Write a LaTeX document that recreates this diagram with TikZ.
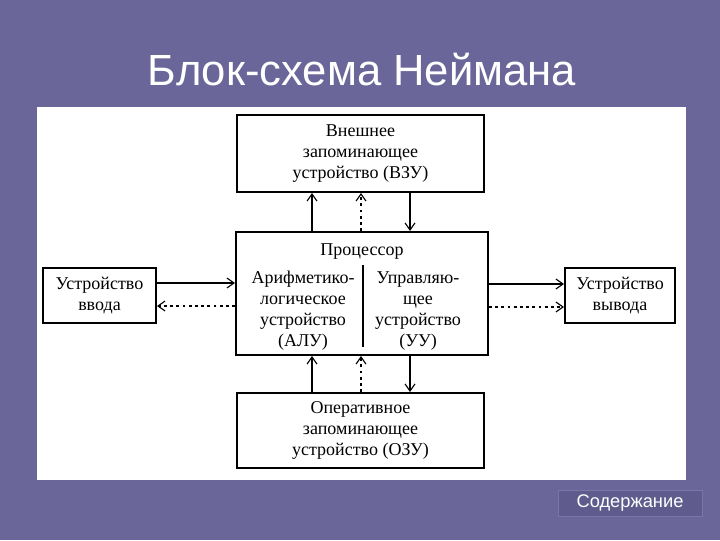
\documentclass[tikz,border=0pt]{standalone}
\usepackage{fontspec}
\setmainfont{Liberation Serif}
\newfontfamily\headfont{Liberation Sans}
\newfontfamily\btnfont{Liberation Sans}
\usetikzlibrary{arrows.meta, positioning, calc}
\definecolor{slidebg}{HTML}{6B6699}
\definecolor{btnfill}{HTML}{5F5B8D}
\definecolor{btnline}{HTML}{7A76A6}

\begin{document}
\begin{tikzpicture}[x=0.025cm, y=-0.025cm,
    block/.style={draw, line width=1.4pt, align=center, inner sep=0pt,
        font=\fontsize{12.8}{15}\selectfont},
    label/.style={align=center, inner sep=0pt, font=\fontsize{12.8}{15}\selectfont},
    arr/.style={line width=0.8pt, -{Straight Barb[length=5pt,width=7pt]}},
    ctrl/.style={arr, dash pattern=on 2pt off 2.4pt}]
    % Slide
    \fill[slidebg] (0,0) rectangle (720,540);
    \fill[white] (37,107) rectangle (686,480);
    \node[anchor=base, text=white, font=\headfont\fontsize{31}{37}\selectfont] (title) at (362,85) {Блок-схема Неймана};

    % Blocks
    \node[block, minimum width=6.175cm, minimum height=1.925cm] (vzu) at (360.5,153.5) {Внешнее\\запоминающее\\устройство (ВЗУ)};
    \node[block, minimum width=6.3cm, minimum height=3.075cm] (proc) at (362,293.5) {};
    \node[block, minimum width=6.175cm, minimum height=1.875cm] (ozu) at (360.5,430.5) {Оперативное\\запоминающее\\устройство (ОЗУ)};
    \node[block, minimum width=2.825cm, minimum height=1.375cm] (inp) at (99.5,295.5) {Устройство\\ввода};
    \node[block, minimum width=2.75cm, minimum height=1.375cm] (out) at (620,295.5) {Устройство\\вывода};

    % Inside the processor
    \node[label, anchor=base] (ptitle) at (362,255) {Процессор};
    \node[label] (alu) at (303,311) {Арифметико-\\логическое\\устройство\\(АЛУ)};
    \node[label] (uu) at (418,311) {Управляю-\\щее\\устройство\\(УУ)};
    \draw[line width=0.9pt] (363,265) -- (363,347);

    % Memory links
    \draw[arr] (proc.north -| 312,0) -- (vzu.south -| 312,0);
    \draw[ctrl] (proc.north -| 361,0) -- (vzu.south -| 361,0);
    \draw[arr] (vzu.south -| 410,0) -- (proc.north -| 410,0);
    \draw[arr] (ozu.north -| 312,0) -- (proc.south -| 312,0);
    \draw[ctrl] (ozu.north -| 361,0) -- (proc.south -| 361,0);
    \draw[arr] (proc.south -| 410,0) -- (ozu.north -| 410,0);

    % Input and output links
    \draw[arr] (inp.east |- 0,283) -- (proc.west |- 0,283);
    \draw[ctrl] (proc.west |- 0,306) -- (inp.east |- 0,306);
    \draw[arr] (proc.east |- 0,284) -- (out.west |- 0,284);
    \draw[ctrl] (proc.east |- 0,307) -- (out.west |- 0,307);

    % Button
    \node[fill=btnfill, draw=btnline, line width=0.6pt, minimum width=3.6cm, minimum height=0.575cm,
        text=white, font=\btnfont\fontsize{13}{15}\selectfont] (toc) at (630,503.5) {Содержание};
\end{tikzpicture}
\end{document}
